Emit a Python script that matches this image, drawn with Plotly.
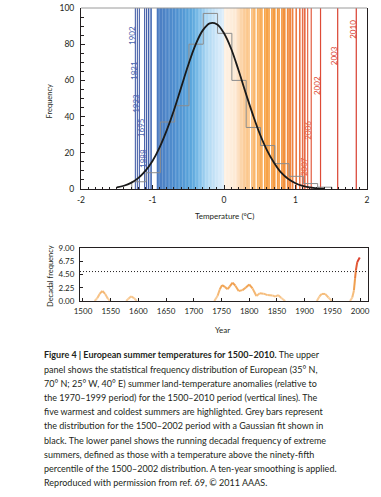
import plotly.graph_objects as go

W, H = 381, 497

# ---------------- data: upper panel ----------------
bin_edges = [-1.29, -1.09, -0.89, -0.69, -0.49, -0.29, -0.09, 0.11, 0.31,
             0.51, 0.71, 0.91, 1.11, 1.31, 1.51]
bin_counts = [4, 9, 37, 46, 80, 97, 86, 60, 34, 24, 14, 7, 3, 1]

fit_temp = [-1.5, -1.4, -1.3, -1.2, -1.1, -1.0, -0.9, -0.8, -0.7, -0.6, -0.5,
            -0.4, -0.3, -0.2, -0.1, 0.0, 0.1, 0.2, 0.3, 0.4, 0.5, 0.6, 0.7,
            0.8, 0.9, 1.0, 1.1, 1.2, 1.3, 1.4]
fit_freq = [0.9, 1.8, 3.4, 6.0, 10.0, 15.5, 23.0, 32.5, 43.5, 56.0, 68.5,
            79.5, 87.5, 91.5, 91.0, 86.0, 77.5, 66.0, 53.5, 41.5, 30.5, 21.5,
            14.5, 9.0, 5.5, 3.2, 1.7, 0.9, 0.4, 0.2]

summer_temps = [-1.055, -1.02,
                -0.93, -0.91, -0.89, -0.87, -0.85, -0.83, -0.81, -0.79, -0.77,
                -0.75, -0.73, -0.71, -0.69, -0.67, -0.65, -0.63, -0.61, -0.59,
                -0.57, -0.55, -0.53, -0.51, -0.49, -0.47, -0.45, -0.43, -0.41,
                -0.39, -0.37, -0.35, -0.33, -0.31, -0.29, -0.27, -0.25, -0.23,
                -0.21, -0.19, -0.17, -0.15, -0.13, -0.11, -0.09, -0.07, -0.05,
                -0.03, -0.01,
                0.01, 0.03, 0.05, 0.07, 0.09, 0.11, 0.13, 0.15, 0.17, 0.19,
                0.21, 0.23, 0.25, 0.27, 0.29, 0.31, 0.33, 0.35, 0.39, 0.41,
                0.43, 0.47, 0.49, 0.51, 0.53, 0.57, 0.59, 0.61, 0.63, 0.67,
                0.69, 0.71, 0.75, 0.77, 0.81, 0.83, 0.85, 0.89, 0.91, 0.93,
                0.96, 1.01, 1.06, 1.10, 1.13]

coldest_years = ["1902", "1821", "1923", "1695", "1888"]
coldest_temps = [-1.24, -1.212, -1.184, -1.11, -1.085]
warmest_years = ["2010", "2003", "2002", "2006", "2007"]
warmest_temps = [1.85, 1.59, 1.35, 1.22, 1.17]

# ---------------- data: lower panel ----------------
decade_years = [1521, 1526, 1530, 1535, 1540, 1545, 1549,
                1578, 1582, 1587, 1592, 1597,
                1737, 1743, 1747, 1751, 1756, 1761, 1765, 1770, 1775, 1781,
                1788, 1794, 1800, 1806, 1813, 1819, 1826, 1833, 1842, 1847,
                1852, 1858, 1865,
                1922, 1927, 1931, 1937, 1943, 1949,
                1982, 1986, 1989, 1991, 1992.5, 1995, 1999.5]
decade_freq = [0, 0.5, 1.2, 1.7, 1.2, 0.4, 0,
               0, 0.4, 0.8, 0.5, 0,
               0, 0.9, 2.0, 2.7, 2.4, 2.0, 2.5, 3.1, 2.6, 1.7,
               1.85, 2.3, 2.8, 2.15, 0.85, 1.3, 1.25, 1.0, 0.95, 0.75,
               1.0, 0.5, 0,
               0, 0.8, 1.2, 1.2, 0.6, 0,
               0, 0.6, 1.8, 3.8, 5.2, 6.6, 7.4]
threshold = 5.0

x_ticks_top = [-2, -1, 0, 1, 2]
x_ticktext_top = ["-2", "-1", "0", "1", "2"]
y_ticks_bottom = [0, 2.25, 4.5, 6.75, 9]

caption_lines = [
    "<b>Figure 4 | European summer temperatures for 1500–2010.</b> The upper",
    "panel shows the statistical frequency distribution of European (35° N,",
    "70° N; 25° W, 40° E) summer land-temperature anomalies (relative to",
    "the 1970–1999 period) for the 1500–2010 period (vertical lines). The",
    "five warmest and coldest summers are highlighted. Grey bars represent",
    "the distribution for the 1500–2002 period with a Gaussian fit shown in",
    "black. The lower panel shows the running decadal frequency of extreme",
    "summers, defined as those with a temperature above the ninety-fifth",
    "percentile of the 1500–2002 distribution. A ten-year smoothing is applied.",
    "Reproduced with permission from ref. 69, © 2011 AAAS.",
]

# ---------------- colour helpers ----------------
def hex2rgb(h):
    h = h.lstrip('#')
    return tuple(int(h[i:i + 2], 16) for i in (0, 2, 4))


def interp(anchors, v):
    if v <= anchors[0][0]:
        c = hex2rgb(anchors[0][1])
    elif v >= anchors[-1][0]:
        c = hex2rgb(anchors[-1][1])
    else:
        for (a, ca), (b, cb) in zip(anchors[:-1], anchors[1:]):
            if a <= v <= b:
                f = (v - a) / (b - a)
                r1, r2 = hex2rgb(ca), hex2rgb(cb)
                c = tuple(round(r1[k] + f * (r2[k] - r1[k])) for k in range(3))
                break
    return 'rgb(%d,%d,%d)' % c


TEMP_SCALE = [(-1.3, '#2f4d9c'), (-1.05, '#4262ae'), (-0.9, '#4c7ec3'),
              (-0.65, '#4f92d1'), (-0.45, '#5ba7dd'), (-0.35, '#7cbce8'),
              (-0.25, '#a9d5f2'), (-0.1, '#cde6f8'), (-0.01, '#ddeefa'),
              (0.01, '#fef1e3'), (0.17, '#fde9d3'), (0.22, '#fcd6ad'),
              (0.33, '#fcc78c'), (0.45, '#fab466'), (0.6, '#f7a247'),
              (0.8, '#f4953b'), (0.95, '#ef8540'), (1.1, '#e86c48'),
              (1.2, '#e45e42'), (1.4, '#dc4532'), (2.0, '#d63a2c')]

FREQ_SCALE = [(0, '#fad3a6'), (1.0, '#f6bf80'), (2.5, '#f1a555'),
              (4.0, '#ec8a3e'), (5.5, '#e5663a'), (7.5, '#d9352a')]

fig = go.Figure()

# ---------------- upper panel ----------------
shapes = []
for t in summer_temps:
    shapes.append(dict(type='line', xref='x', yref='y domain', x0=t, x1=t,
                       y0=0, y1=1, layer='below',
                       line=dict(color=interp(TEMP_SCALE, t), width=1.6)))
for t in coldest_temps:
    shapes.append(dict(type='line', xref='x', yref='y domain', x0=t, x1=t,
                       y0=0, y1=1, layer='below',
                       line=dict(color='#34509f', width=1.0)))
for t in warmest_temps:
    shapes.append(dict(type='line', xref='x', yref='y domain', x0=t, x1=t,
                       y0=0, y1=1, layer='below',
                       line=dict(color=interp(TEMP_SCALE, t), width=1.2)))
# grey top border of the upper panel
shapes.append(dict(type='line', xref='x domain', yref='y domain', x0=0, x1=1,
                   y0=1, y1=1, line=dict(color='#9a9a9a', width=1)))
# dotted threshold in lower panel
shapes.append(dict(type='line', xref='x2 domain', yref='y2', x0=0, x1=1,
                   y0=threshold, y1=threshold,
                   line=dict(color='#231f20', width=1, dash='1px,2px')))

hist_x = [bin_edges[0]] + bin_edges
hist_y = [0] + bin_counts + [0]
fig.add_trace(go.Scatter(x=hist_x, y=hist_y, mode='lines',
                         line=dict(color='#8c8c8c', width=1, shape='hv'),
                         xaxis='x', yaxis='y', hoverinfo='skip'))
fig.add_trace(go.Scatter(x=fit_temp, y=fit_freq, mode='lines',
                         line=dict(color='#1a1a1a', width=1.8, shape='spline'),
                         xaxis='x', yaxis='y', hoverinfo='skip'))

# ---------------- lower panel (value-coloured line) ----------------
for i in range(len(decade_years) - 1):
    y0, y1 = decade_freq[i], decade_freq[i + 1]
    if y0 == 0 and y1 == 0:
        continue
    if decade_years[i + 1] - decade_years[i] > 20:
        continue
    fig.add_trace(go.Scatter(
        x=[decade_years[i], decade_years[i + 1]], y=[y0, y1], mode='lines',
        line=dict(color=interp(FREQ_SCALE, (y0 + y1) / 2), width=2),
        xaxis='x2', yaxis='y2', hoverinfo='skip'))

# ---------------- annotations ----------------
def px(x):
    return x / W


def py(y):
    return 1 - y / H


TXT = '#231f20'
annotations = []
cold_label_y = [85, 65.7, 47.5, 33.7, 17.1]
warm_label_y = [88.4, 73.5, 56.9, 32.6, 12.2]
for yr, t, ly in zip(coldest_years, coldest_temps, cold_label_y):
    annotations.append(dict(x=t, y=ly, xref='x', yref='y', text=yr,
                            textangle=-90, showarrow=False, xshift=-3.5,
                            xanchor='center', yanchor='middle',
                            font=dict(size=8, color='#4a63ad')))
for yr, t, ly in zip(warmest_years, warmest_temps, warm_label_y):
    annotations.append(dict(x=t, y=ly, xref='x', yref='y', text=yr,
                            textangle=-90, showarrow=False, xshift=-3.5,
                            xanchor='center', yanchor='middle',
                            font=dict(size=8, color=interp(TEMP_SCALE, t))))

annotations += [
    dict(x=px(49), y=py(101.5), xref='paper', yref='paper', text='Frequency',
         textangle=-90, showarrow=False, xanchor='center', yanchor='middle',
         font=dict(size=7.5, color=TXT)),
    dict(x=px(225), y=py(216), xref='paper', yref='paper',
         text='Temperature (°C)', showarrow=False, xanchor='center',
         yanchor='middle', font=dict(size=8, color=TXT)),
    dict(x=px(50), y=py(276), xref='paper', yref='paper',
         text='Decadal frequency', textangle=-90, showarrow=False,
         xanchor='center', yanchor='middle',
         font=dict(size=7.5, color=TXT)),
    dict(x=px(222), y=py(330), xref='paper', yref='paper', text='Year',
         showarrow=False, xanchor='center', yanchor='middle',
         font=dict(size=8, color=TXT)),
]
for i, line in enumerate(caption_lines):
    annotations.append(dict(x=px(42), y=py(354.8 + 14.2 * i), xref='paper',
                            yref='paper', xanchor='left', yanchor='middle',
                            text=line, showarrow=False,
                            font=dict(size=9, color=TXT)))

axis_common = dict(showgrid=False, zeroline=False, showline=True,
                   linecolor='#231f20', linewidth=1, ticks='inside',
                   tickcolor='#231f20', tickwidth=1, automargin=False)

fig.update_layout(
    width=W, height=H,
    margin=dict(l=0, r=0, t=0, b=0, pad=0, autoexpand=False),
    paper_bgcolor='white', plot_bgcolor='white', showlegend=False,
    font=dict(family='Lato', color=TXT),
    xaxis=dict(domain=[px(81), px(367)], range=[-2, 2], anchor='y',
               tickvals=x_ticks_top, ticktext=x_ticktext_top, ticklen=4,
               ticklabelstandoff=3,
               tickfont=dict(size=8.5, color=TXT),
               minor=dict(dtick=0.1, ticks='inside', ticklen=2.5,
                          tickcolor='#231f20'),
               **axis_common),
    yaxis=dict(domain=[py(189), py(8)], range=[0, 100], anchor='x',
               dtick=20, ticklen=4, mirror=True, ticklabelstandoff=4,
               tickfont=dict(size=8.5, color=TXT),
               minor=dict(dtick=5, ticks='inside', ticklen=2.5,
                          tickcolor='#231f20'),
               **axis_common),
    xaxis2=dict(domain=[px(80), px(368)], range=[1494.6, 2014.4],
                anchor='y2', tick0=1500, dtick=50, ticklen=3, mirror=True,
                ticklabelstandoff=2,
                tickfont=dict(size=8, color=TXT), **axis_common),
    yaxis2=dict(domain=[py(301), py(248)], range=[0, 9], anchor='x2',
                tickvals=y_ticks_bottom, tickformat='.2f', ticklen=3,
                mirror=True, ticklabelstandoff=3,
                tickfont=dict(size=8, color=TXT),
                **axis_common),
    shapes=shapes,
    annotations=annotations,
)

fig.write_html("out.html", config={'displayModeBar': False},
               post_script="document.body.style.margin='0';"
                           "document.body.style.padding='0';")
